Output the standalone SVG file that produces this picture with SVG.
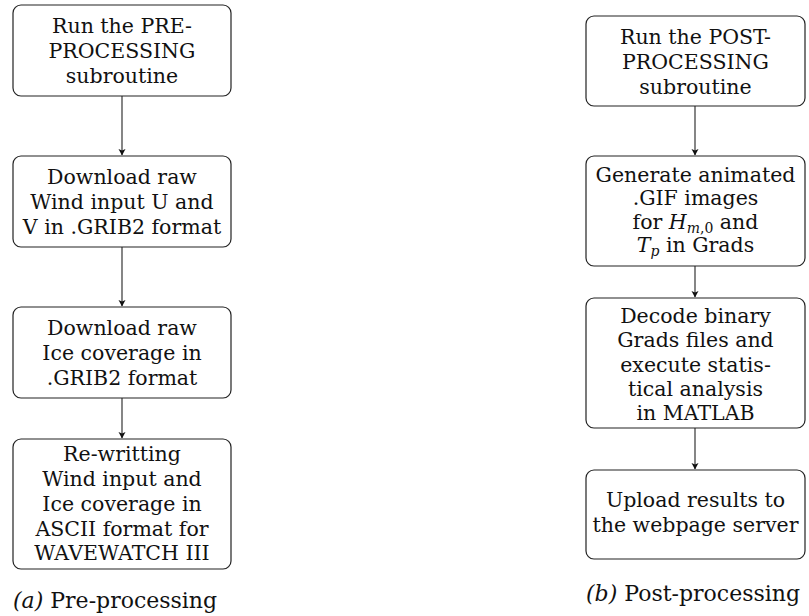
<svg xmlns="http://www.w3.org/2000/svg" width="809" height="616" viewBox="0 0 809 616">
<style>
.box{fill:#fff;stroke:#222;stroke-width:1.2}
.t{font-family:"DejaVu Serif",serif;font-size:20.5px;fill:#111;text-anchor:middle}
.cap{font-family:"DejaVu Serif",serif;font-size:22px;fill:#111}
.edge{stroke:#222;stroke-width:1.1;fill:none}
.i{font-style:italic}
</style>
<defs>
<marker id="ah" markerWidth="8" markerHeight="8" refX="6" refY="4" orient="auto" markerUnits="userSpaceOnUse">
<path d="M0,0.5 L6.5,4 L0,7.5 L1.5,4 Z" fill="#111"/>
</marker>
</defs>
<g id="connectors">
<line class="edge" x1="122" y1="96" x2="122" y2="155" marker-end="url(#ah)"/>
<line class="edge" x1="122" y1="247" x2="122" y2="306" marker-end="url(#ah)"/>
<line class="edge" x1="122" y1="398" x2="122" y2="438" marker-end="url(#ah)"/>
<line class="edge" x1="695" y1="106" x2="695" y2="155" marker-end="url(#ah)"/>
<line class="edge" x1="695" y1="266" x2="695" y2="297" marker-end="url(#ah)"/>
<line class="edge" x1="695" y1="428" x2="695" y2="469" marker-end="url(#ah)"/>
</g>
<g id="pre1">
<rect class="box" x="13" y="5" width="218" height="91" rx="8"/>
<text class="t" x="122" y="33">Run the PRE-</text>
<text class="t" x="122" y="58">PROCESSING</text>
<text class="t" x="122" y="83">subroutine</text>
</g>
<g id="pre2">
<rect class="box" x="13" y="156" width="218" height="91" rx="8"/>
<text class="t" x="122" y="184">Download raw</text>
<text class="t" x="122" y="209">Wind input U and</text>
<text class="t" x="122" y="234">V in .GRIB2 format</text>
</g>
<g id="pre3">
<rect class="box" x="13" y="307" width="218" height="91" rx="8"/>
<text class="t" x="122" y="335">Download raw</text>
<text class="t" x="122" y="360">Ice coverage in</text>
<text class="t" x="122" y="385">.GRIB2 format</text>
</g>
<g id="pre4">
<rect class="box" x="13" y="439" width="218" height="130" rx="8"/>
<text class="t" x="122" y="461">Re-writting</text>
<text class="t" x="122" y="486">Wind input and</text>
<text class="t" x="122" y="511">Ice coverage in</text>
<text class="t" x="122" y="536">ASCII format for</text>
<text class="t" x="122" y="560">WAVEWATCH III</text>
</g>
<text class="cap" x="13" y="608"><tspan class="i">(a)</tspan> Pre-processing</text>
<g id="post1">
<rect class="box" x="586" y="16" width="219" height="90" rx="8"/>
<text class="t" x="695.5" y="44">Run the POST-</text>
<text class="t" x="695.5" y="69">PROCESSING</text>
<text class="t" x="695.5" y="94">subroutine</text>
</g>
<g id="post2">
<rect class="box" x="586" y="156" width="219" height="110" rx="8"/>
<text class="t" x="695.5" y="182">Generate animated</text>
<text class="t" x="695.5" y="205">.GIF images</text>
<text class="t" x="695.5" y="229">for <tspan class="i">H</tspan><tspan font-size="14" dy="4"><tspan class="i">m</tspan>,0</tspan><tspan dy="-4"> and</tspan></text>
<text class="t" x="695.5" y="252"><tspan class="i">T</tspan><tspan class="i" font-size="14" dy="4">p</tspan><tspan dy="-4"> in Grads</tspan></text>
</g>
<g id="post3">
<rect class="box" x="586" y="298" width="219" height="130" rx="8"/>
<text class="t" x="695.5" y="323">Decode binary</text>
<text class="t" x="695.5" y="347">Grads files and</text>
<text class="t" x="695.5" y="372">execute statis-</text>
<text class="t" x="695.5" y="396">tical analysis</text>
<text class="t" x="695.5" y="420">in MATLAB</text>
</g>
<g id="post4">
<rect class="box" x="586" y="470" width="219" height="89" rx="8"/>
<text class="t" x="695.5" y="507">Upload results to</text>
<text class="t" x="695.5" y="532">the webpage server</text>
</g>
<text class="cap" x="586" y="601"><tspan class="i">(b)</tspan> Post-processing</text>
</svg>
